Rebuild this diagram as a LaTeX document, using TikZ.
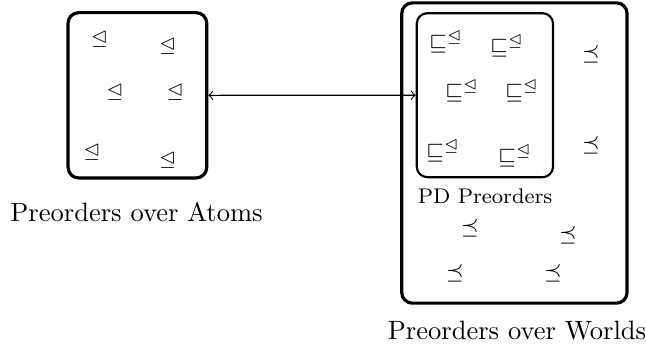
\documentclass[tikz,border=0pt]{standalone}
\usepackage{amssymb}
\begin{document}
\begin{tikzpicture}[x=0.377pt,y=-0.377pt,
  bigbox/.style={draw,very thick,rounded corners=4pt,inner sep=0pt},
  pdbox/.style={draw,thick,rounded corners=4pt,inner sep=0pt},
  sym/.style={inner sep=0pt,font=\footnotesize},
  lbl/.style={inner sep=0pt,font=\normalsize}]
\useasboundingbox (0,0) rectangle (646,354);
% boxes
\node[bigbox,minimum width=138.7*0.377pt,minimum height=165.3*0.377pt] (L) at (137.4,95.3) {};
\node[bigbox,minimum width=225.3*0.377pt,minimum height=300.3*0.377pt] (O) at (514.4,153) {};
\node[pdbox,minimum width=136.3*0.377pt,minimum height=164*0.377pt] (I) at (484.9,95.2) {};
% arrow
\draw[<->] (L) -- (I);
% labels
\node[lbl] (la) at (136.5,212) {Preorders over Atoms};
\node[lbl] (lw) at (517,331) {Preorders over Worlds};
\node[sym] (lp) at (485,196) {PD Preorders};
% atoms symbols
\node[sym] (a1) at (99.5,39) {$\trianglelefteq$};
\node[sym] (a2) at (167.5,46) {$\trianglelefteq$};
\node[sym] (a3) at (115,92) {$\trianglelefteq$};
\node[sym] (a4) at (175,92) {$\trianglelefteq$};
\node[sym] (a5) at (92,152) {$\trianglelefteq$};
\node[sym] (a6) at (167.5,160) {$\trianglelefteq$};
% PD symbols
\node[sym] (p1) at (446,42) {$\sqsubseteq^{\trianglelefteq}$};
\node[sym] (p2) at (507,46) {$\sqsubseteq^{\trianglelefteq}$};
\node[sym] (p3) at (462,91) {$\sqsubseteq^{\trianglelefteq}$};
\node[sym] (p4) at (522,91) {$\sqsubseteq^{\trianglelefteq}$};
\node[sym] (p5) at (443,151) {$\sqsubseteq^{\trianglelefteq}$};
\node[sym] (p6) at (515,156) {$\sqsubseteq^{\trianglelefteq}$};
% worlds symbols
\node[sym] (w1) at (591,54) {$\preceq$};
\node[sym] (w2) at (591,145) {$\preceq$};
\node[sym] (w3) at (470,228) {$\preceq$};
\node[sym] (w4) at (568,235) {$\preceq$};
\node[sym] (w5) at (455,273) {$\preceq$};
\node[sym] (w6) at (553,273) {$\preceq$};
\end{tikzpicture}
\end{document}
